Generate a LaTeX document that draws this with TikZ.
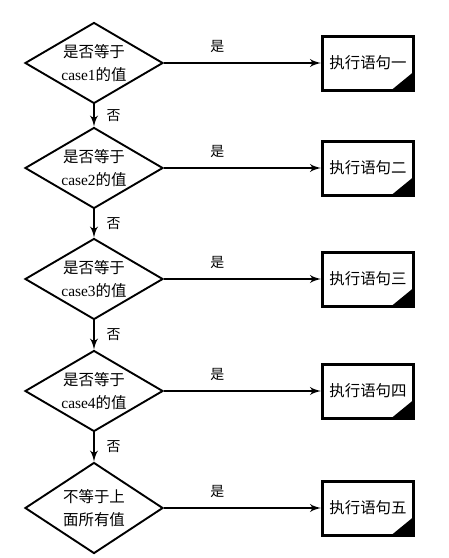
\documentclass[tikz,border=0pt]{standalone}
\usepackage{fontspec}
\setmainfont{Liberation Serif}
\newfontfamily\cjk{Noto Sans CJK SC}
\usetikzlibrary{arrows}
\usetikzlibrary{shapes.geometric}
\usetikzlibrary{positioning}
\tikzstyle{decision} = [diamond, draw, line width=1.9bp, inner sep=0pt, aspect=1.7,
    minimum width=138bp, minimum height=81bp, align=center,
    font=\cjk\fontsize{15.5}{23}\selectfont]
\tikzstyle{stmt} = [rectangle, draw, line width=3bp, minimum width=91bp,
    minimum height=54bp, inner sep=2bp, font=\cjk\fontsize{15.5}{18}\selectfont,
    path picture={\fill (path picture bounding box.south east) -- ++(-22bp,0) -- ++(22bp,18bp) -- cycle;}]
\tikzstyle{lbl} = [font=\cjk\fontsize{14}{16}\selectfont]
\tikzstyle{line} = [draw, line width=2.8bp, -latex']

\begin{document}
\begin{tikzpicture}[node distance = 112bp]
    \useasboundingbox (0,0) rectangle (449bp,-558bp);
    % Place nodes
    \node [decision] (d1) at (94bp,-63bp) {是否等于\\\textrm{case1}的值};
    \node [decision, below of=d1, node distance=105bp] (d2) {是否等于\\\textrm{case2}的值};
    \node [decision, below of=d2, node distance=111bp] (d3) {是否等于\\\textrm{case3}的值};
    \node [decision, below of=d3] (d4) {是否等于\\\textrm{case4}的值};
    \node [decision, below of=d4, node distance=117bp, minimum height=91bp] (d5) {不等于上\\面所有值};
    \node [stmt, right of=d1, node distance=274bp] (s1) {执行语句一};
    \node [stmt, right of=d2, node distance=274bp] (s2) {执行语句二};
    \node [stmt, right of=d3, node distance=274bp] (s3) {执行语句三};
    \node [stmt, right of=d4, node distance=274bp] (s4) {执行语句四};
    \node [stmt, right of=d5, node distance=274bp] (s5) {执行语句五};
    % Draw edges
    \path [line] (d1) -- node [lbl, right=8bp] {否} (d2);
    \path [line] (d2) -- node [lbl, right=8bp] {否} (d3);
    \path [line] (d3) -- node [lbl, right=8bp] {否} (d4);
    \path [line] (d4) -- node [lbl, right=8bp] {否} (d5);
    \path [line] (d1) -- node [lbl, above=6bp, pos=0.34] {是} (s1);
    \path [line] (d2) -- node [lbl, above=6bp, pos=0.34] {是} (s2);
    \path [line] (d3) -- node [lbl, above=6bp, pos=0.34] {是} (s3);
    \path [line] (d4) -- node [lbl, above=6bp, pos=0.34] {是} (s4);
    \path [line] (d5) -- node [lbl, above=6bp, pos=0.34] {是} (s5);
\end{tikzpicture}
\end{document}
